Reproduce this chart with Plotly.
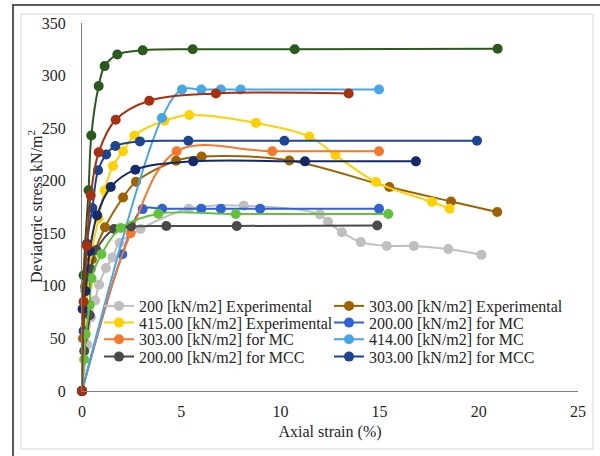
import plotly.graph_objects as go

# ---------------- data ----------------
grey_x = [0, 0.27, 0.45, 0.66, 0.86, 1.21, 1.53, 1.9, 2.95, 5.38, 8.15, 12.0, 12.4, 13.1, 14.05, 15.36, 16.73, 18.46, 20.13]
grey_y = [0, 44, 70, 86, 101, 117, 127, 141, 154, 173.3, 176.3, 168, 161, 151, 141.6, 138, 138, 135, 129.5]

brown_x = [0, 0.05, 0.15, 0.5, 1.16, 2.07, 2.72, 4.74, 6.03, 10.45, 15.49, 18.6, 20.93]
brown_y = [0, 50, 99, 125, 155.8, 184, 199, 219, 223, 219.3, 194, 180.3, 170.2]

yellow_x = [0, 0.15, 0.3, 0.47, 0.84, 1.14, 1.56, 2.07, 2.64, 4.15, 5.41, 8.77, 11.46, 12.77, 14.82, 17.64, 18.53]
yellow_y = [0, 60, 100, 131, 164, 191, 214, 228, 243, 257, 262.5, 255, 242, 224.4, 198.7, 179.7, 173.3]

mc200_x = [0, 2.03, 3.06, 4.04, 6.01, 7.0, 8.98, 14.97]
mc200_y = [0, 130, 173, 173.3, 173.3, 173.3, 173.3, 173.3]

mc303_x = [0, 2.45, 4.77, 9.59, 14.97]
mc303_y = [0, 150, 228, 228, 228]

mc414_x = [0, 4.03, 5.04, 6.01, 7.0, 8.0, 14.97]
mc414_y = [0, 259.7, 286.7, 286.7, 286.7, 286.7, 286.7]

mcc200_x = [0, 0.11, 0.39, 0.44, 0.72, 1.62, 2.47, 4.25, 7.8, 14.88]
mcc200_y = [0, 38, 72, 116, 134, 154, 156.5, 157, 157, 157.4]

mcc303_x = [0, 0.08, 0.25, 0.52, 0.81, 1.22, 1.68, 2.92, 5.36, 10.2, 19.91]
mcc303_y = [0, 57, 140, 174, 210, 225, 233, 237.4, 238, 238, 238]

lime_x = [0, 0.11, 0.19, 0.38, 0.48, 0.98, 1.95, 3.85, 7.75, 15.44]
lime_y = [0, 30, 54, 82, 107, 130, 155, 168.5, 168.3, 168.3]

navy_x = [0, 0.03, 0.18, 0.39, 0.76, 1.45, 2.69, 5.61, 11.24, 16.83]
navy_y = [0, 78, 95, 133, 167, 194, 210.5, 218.4, 218.4, 218.4]

dgreen_x = [0, 0.08, 0.33, 0.47, 0.84, 1.14, 1.78, 3.06, 5.58, 10.72, 20.95]
dgreen_y = [0, 110, 191, 243, 290, 309, 320, 324, 325, 325, 325.5]

dred_x = [0, 0.08, 0.25, 0.44, 0.84, 1.7, 3.39, 6.75, 13.44]
dred_y = [0, 85, 138, 186, 227, 258, 276, 283, 283]

x_ticks = [0, 5, 10, 15, 20, 25]
y_ticks = [0, 50, 100, 150, 200, 250, 300, 350]

# ---------------- figure ----------------
FONT = "Liberation Serif, Times New Roman, serif"
TXT = "#262626"
# (name, x, y, colour, legend id, legend entry width)
series = [
    ("200 [kN/m2] Experimental", grey_x, grey_y, "#BFBFBF", "legend", 185),
    ("303.00 [kN/m2] Experimental", brown_x, brown_y, "#9E6300", "legend", 200),
    ("415.00 [kN/m2] Experimental", yellow_x, yellow_y, "#FFD100", "legend2", 185),
    ("200.00 [kN/m2] for MC", mc200_x, mc200_y, "#2F62D6", "legend2", 200),
    ("303.00 [kN/m2] for MC", mc303_x, mc303_y, "#F7782B", "legend3", 185),
    ("414.00 [kN/m2] for MC", mc414_x, mc414_y, "#45A6E8", "legend3", 200),
    ("200.00 [kN/m2] for MCC", mcc200_x, mcc200_y, "#4A4A4A", "legend4", 185),
    ("303.00 [kN/m2] for MCC", mcc303_x, mcc303_y, "#1C4592", "legend4", 200),
    ("lime", lime_x, lime_y, "#62C23C", None, None),
    ("navy", navy_x, navy_y, "#12296A", None, None),
    ("dgreen", dgreen_x, dgreen_y, "#2A5A1E", None, None),
    ("dred", dred_x, dred_y, "#A8300E", None, None),
]

fig = go.Figure()
for name, xs, ys, col, lg, lw in series:
    kw = {}
    if lw:
        kw["legendwidth"] = lw
    fig.add_trace(go.Scatter(
        x=xs, y=ys, name=name, mode="lines+markers",
        line=dict(color=col, width=2, shape="spline", smoothing=1),
        marker=dict(color=col, size=10),
        cliponaxis=False,
        showlegend=lg is not None,
        legend=lg if lg else "legend",
        **kw,
    ))

def ypaper(py):
    return (391 - py) / 368.0

def xpaper(px):
    return (px - 82) / 496.0

leg_common = dict(orientation="h", xanchor="left", yanchor="middle",
                  x=xpaper(99), bgcolor="rgba(0,0,0,0)",
                  font=dict(family=FONT, size=16, color=TXT),
                  entrywidth=185, entrywidthmode="pixels", itemwidth=30)

fig.update_layout(
    width=600, height=456,
    margin=dict(l=82, r=22, t=23, b=65),
    paper_bgcolor="white", plot_bgcolor="white",
    font=dict(family=FONT, size=16, color=TXT),
    legend=dict(y=ypaper(306), **leg_common),
    legend2=dict(y=ypaper(322.7), **leg_common),
    legend3=dict(y=ypaper(339.3), **leg_common),
    legend4=dict(y=ypaper(356.7), **leg_common),
    xaxis=dict(range=[0, 25], tickvals=x_ticks, showgrid=False, zeroline=False,
               showline=True, linecolor="#7F7F7F", linewidth=1.3, ticks="",
               ticklabelstandoff=6,
               title=dict(text="Axial strain (%)", standoff=6,
                          font=dict(family=FONT, size=16, color=TXT)),
               automargin=False),
    yaxis=dict(range=[0, 350], tickvals=y_ticks, showgrid=False, zeroline=False,
               showline=True, linecolor="#7F7F7F", linewidth=1.3, ticks="",
               ticklabelstandoff=12, automargin=False),
    annotations=[
        dict(text="Deviatoric stress kN/m<sup>2</sup>", textangle=-90,
             xref="paper", yref="paper", x=xpaper(35), y=ypaper(207),
             xanchor="center", yanchor="middle", showarrow=False,
             font=dict(family=FONT, size=16, color=TXT)),
    ],
    shapes=[
        dict(type="rect", xref="paper", yref="paper",
             x0=xpaper(21), x1=xpaper(593), y0=ypaper(449), y1=ypaper(14),
             line=dict(color="#D9D9D9", width=1), layer="below"),
        dict(type="rect", xref="paper", yref="paper",
             x0=xpaper(13), x1=xpaper(640), y0=ypaper(500), y1=ypaper(5),
             line=dict(color="#595959", width=2), layer="below"),
    ],
)

fig.write_html("out.html")
